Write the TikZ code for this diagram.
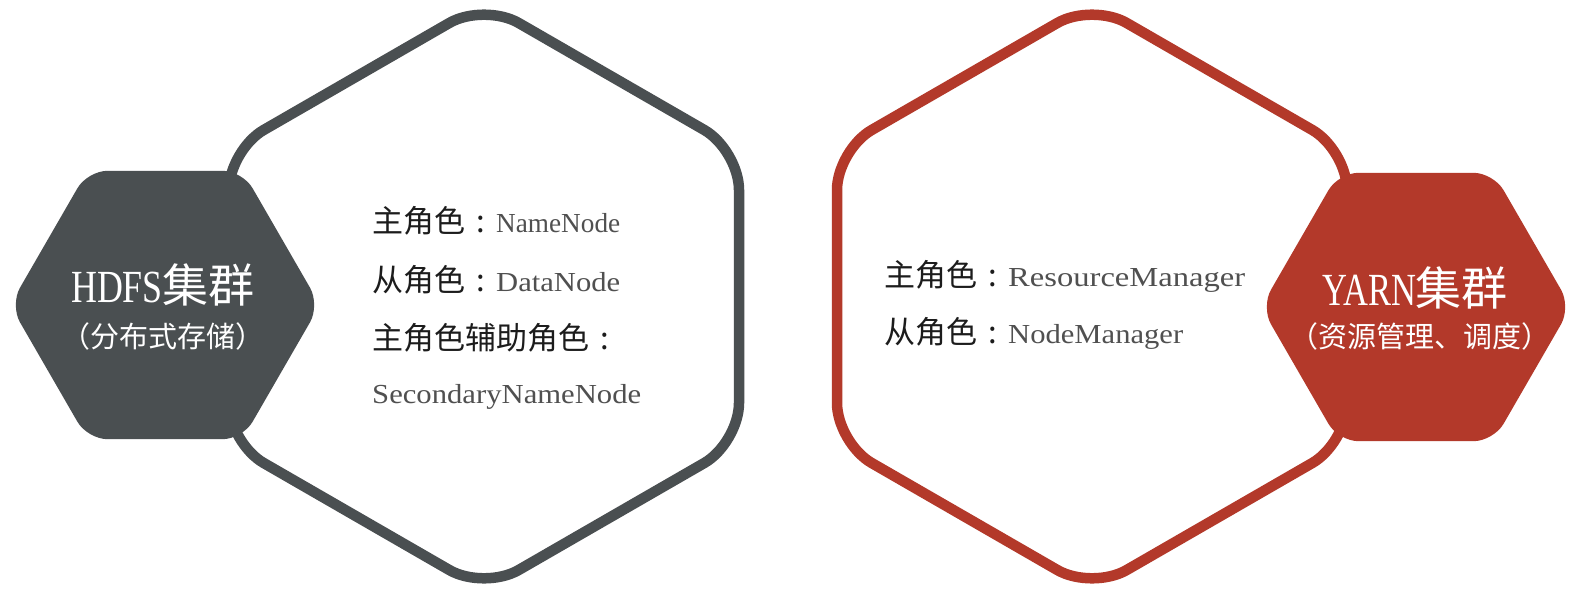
\documentclass[tikz,border=0pt]{standalone}
\usepackage{fontspec}
\usepackage{graphicx}
\setmainfont{Liberation Serif}
\newfontfamily\cjk{Noto Sans CJK SC}
\definecolor{hdfsgray}{HTML}{4A4F51}
\definecolor{yarnred}{HTML}{B3392A}
\definecolor{latgray}{HTML}{505050}
\definecolor{cjkblack}{HTML}{1C1C1C}
\newcommand\latw[2]{{\rmfamily\color{latgray}\fontsize{27.5}{30}\selectfont\resizebox{#1pt}{\height}{#2}}}
\newcommand\cjkcolon{\makebox[1em]{:}}
\tikzset{
  bighex/.style={line width=10.5pt, rounded corners=40pt, line join=round, fill=white},
  smallhex/.style={rounded corners=20pt},
  role/.style={anchor=base west, inner sep=0pt, text=cjkblack, font=\cjk\fontsize{31}{34}\selectfont},
  title/.style={anchor=base, inner sep=0pt, text=white},
}
\begin{document}
\begin{tikzpicture}[x=1pt,y=-1pt]
\fill[white] (0,0) rectangle (1571,596);
\useasboundingbox (0,0) rectangle (1571,596);

% big outlined hexagons
\draw[bighex, draw=hdfsgray] (484,3) -- (739,150) -- (739,443) -- (484,590) -- (229,443) -- (229,150) -- cycle;
\draw[bighex, draw=yarnred] (1092,3) -- (1347,150) -- (1347,443) -- (1092,590) -- (837,443) -- (837,150) -- cycle;

% small filled hexagons
\fill[smallhex, hdfsgray] (10,305) -- (87.5,170.8) -- (242.5,170.8) -- (320,305) -- (242.5,439.2) -- (87.5,439.2) -- cycle;
\fill[smallhex, yarnred] (1261,307) -- (1338.5,172.8) -- (1493.5,172.8) -- (1571,307) -- (1493.5,441.2) -- (1338.5,441.2) -- cycle;

% titles
\node[title] (hdfs) at (163,302) {\fontsize{46}{46}\selectfont\scalebox{0.78}[1]{HDFS}{\cjk 集群}};
\node[title] (hdfssub) at (163,347) {\cjk\fontsize{29}{29}\selectfont （分布式存储）};
\node[title] (yarn) at (1415,305) {\fontsize{46}{46}\selectfont\scalebox{0.75}[1]{YARN}{\cjk 集群}};
\node[title] (yarnsub) at (1420,347) {\cjk\fontsize{29}{29}\selectfont （资源管理、调度）};

% HDFS roles
\node[role] (nn) at (372,233) {主角色\cjkcolon\latw{124}{NameNode}};
\node[role] (dn) at (372,291) {从角色\cjkcolon\latw{124}{DataNode}};
\node[role] (snnlabel) at (372,349) {主角色辅助角色\cjkcolon};
\node[role] (snn) at (372,403) {\latw{269}{SecondaryNameNode}};

% YARN roles
\node[role] (rm) at (884,286) {主角色\cjkcolon\latw{237}{ResourceManager}};
\node[role] (nm) at (884,343) {从角色\cjkcolon\latw{175}{NodeManager}};
\end{tikzpicture}
\end{document}
